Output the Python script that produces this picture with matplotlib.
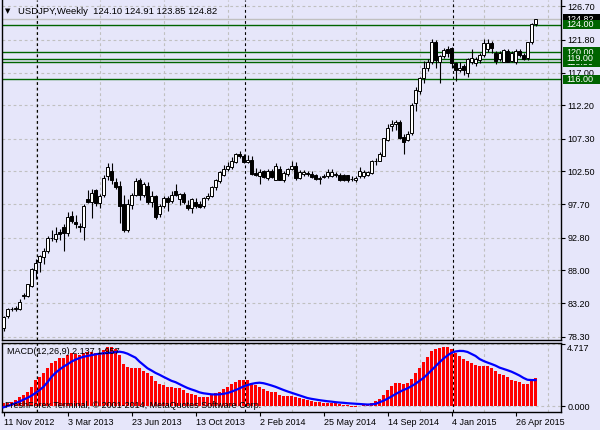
"""
USDJPY weekly candles with MACD(12,26,9) panel, MetaTrader style
"""
import numpy as np
import pandas as pd
import matplotlib
matplotlib.use('Agg')
import matplotlib.pyplot as plt
from matplotlib.ticker import MultipleLocator, FixedLocator
from matplotlib.patches import Rectangle
from matplotlib.transforms import blended_transform_factory

# weekly bars, first week 11 Nov 2012
first_week = '2012-11-11'

opens = [79.50, 81.30, 82.30, 82.40, 82.40, 84.30, 84.20, 85.70, 88.00, 89.20,
         90.00, 90.90, 92.70, 92.60, 93.60, 94.40, 93.50, 96.00, 95.10, 94.50,
         94.30, 98.40, 98.10, 99.85, 97.90, 99.10, 101.80, 102.60, 101.00, 100.40,
         97.80, 94.00, 97.60, 99.10, 101.20, 99.10, 100.40, 98.00, 98.85, 96.20,
         97.50, 98.60, 98.15, 99.70, 98.50, 99.20, 97.65, 97.10, 98.10, 97.80,
         97.50, 98.60, 98.95, 100.20, 101.05, 102.05, 102.80, 103.20, 103.85, 105.10,
         104.80, 103.90, 104.20, 102.30, 101.80, 102.50, 101.55, 102.50, 101.30, 102.85,
         101.20, 102.20, 102.80, 103.25, 101.55, 102.20, 102.30, 102.20, 101.95, 101.40,
         101.70, 101.80, 101.80, 102.00, 102.05, 102.00, 101.95, 101.45, 101.30, 101.80,
         101.80, 102.00, 102.30, 104.00, 104.10, 104.80, 107.15, 109.10, 109.40, 109.70,
         107.55, 107.15, 108.10, 112.50, 114.35, 116.20, 117.60, 118.60, 121.50, 118.60,
         119.40, 120.40, 120.60, 118.35, 117.30, 117.90, 116.90, 118.60, 118.40, 118.85,
         119.60, 120.40, 121.35, 119.90, 119.00, 118.60, 120.10, 118.70, 118.60, 120.20,
         119.60, 119.10, 121.40, 124.10]
highs = [81.40, 82.50, 82.70, 82.80, 83.85, 84.75, 86.00, 88.40, 89.70, 90.30,
         91.30, 93.00, 94.00, 94.40, 94.10, 94.80, 96.50, 96.70, 96.10, 95.00,
         97.80, 99.80, 99.90, 99.95, 99.20, 102.00, 103.70, 103.75, 101.50, 101.10,
         99.00, 98.50, 99.40, 101.50, 101.50, 100.90, 100.90, 99.60, 99.00, 97.70,
         98.90, 98.85, 99.60, 100.60, 99.40, 99.50, 98.30, 98.60, 98.60, 98.20,
         98.70, 99.30, 100.40, 101.35, 102.50, 103.40, 103.90, 104.60, 105.20, 105.45,
         105.10, 104.90, 104.80, 103.00, 102.90, 102.70, 102.80, 102.90, 103.75, 103.30,
         102.60, 103.00, 104.10, 103.90, 102.70, 102.70, 102.60, 102.50, 102.10, 101.80,
         102.10, 102.80, 102.80, 102.40, 102.30, 102.20, 102.00, 101.80, 101.90, 103.10,
         102.70, 102.60, 104.20, 104.50, 105.30, 107.40, 109.50, 110.10, 110.10, 110.10,
         108.00, 108.40, 112.50, 114.90, 116.30, 118.75, 119.00, 121.85, 121.70, 119.60,
         120.60, 120.90, 120.80, 118.60, 118.60, 118.30, 119.10, 120.40, 119.20, 119.90,
         121.90, 121.90, 121.60, 120.10, 120.20, 120.50, 120.40, 120.10, 120.50, 120.50,
         119.90, 121.50, 124.20, 124.91]
lows = [79.20, 81.10, 82.00, 82.10, 82.20, 83.80, 84.10, 85.60, 86.80, 87.80,
        89.00, 90.60, 92.30, 92.10, 92.50, 90.80, 93.00, 95.00, 94.20, 93.60,
        92.50, 97.90, 95.75, 97.40, 97.10, 98.80, 101.30, 100.60, 100.00, 94.90,
        93.60, 93.60, 97.00, 98.90, 98.30, 98.80, 97.80, 97.30, 95.55, 95.80,
        97.10, 96.70, 97.90, 98.90, 97.65, 97.80, 96.90, 96.45, 97.20, 97.10,
        97.20, 98.30, 98.80, 99.80, 100.80, 101.90, 102.60, 102.90, 103.80, 104.50,
        103.70, 103.80, 102.00, 101.80, 100.60, 101.50, 101.20, 101.50, 101.20, 101.20,
        100.90, 101.80, 102.70, 101.30, 101.40, 101.90, 101.90, 101.50, 101.20, 100.70,
        101.50, 101.60, 101.70, 101.70, 101.10, 101.10, 100.90, 101.10, 101.00, 101.60,
        101.50, 101.80, 102.20, 103.50, 104.00, 104.70, 106.90, 108.50, 108.60, 107.30,
        105.05, 106.90, 107.90, 111.30, 113.90, 115.50, 117.20, 118.20, 117.60, 115.45,
        119.10, 119.20, 117.60, 115.70, 117.10, 116.70, 116.40, 118.30, 118.00, 118.40,
        119.30, 120.00, 119.90, 118.30, 118.70, 118.50, 118.50, 118.50, 118.30, 119.20,
        118.80, 118.90, 121.20, 123.85]
closes = [81.25, 82.30, 82.40, 82.50, 83.45, 84.45, 85.95, 88.15, 89.10, 90.10,
          90.90, 92.70, 92.80, 93.40, 93.40, 93.50, 95.85, 95.30, 94.80, 94.30,
          97.50, 98.10, 99.40, 97.90, 98.90, 101.55, 103.20, 101.20, 100.30, 97.40,
          94.00, 97.80, 99.10, 101.05, 99.10, 100.60, 98.10, 98.95, 95.85, 97.50,
          98.60, 98.00, 99.10, 99.10, 99.20, 98.10, 97.20, 98.50, 97.50, 97.30,
          98.60, 98.95, 100.20, 101.20, 102.40, 102.80, 103.25, 104.00, 105.05, 104.70,
          103.95, 104.20, 102.20, 102.05, 102.40, 101.70, 102.50, 101.75, 103.25, 101.30,
          102.30, 102.85, 103.25, 101.55, 102.40, 102.40, 102.20, 101.65, 101.40, 101.55,
          101.85, 102.40, 102.45, 102.05, 101.30, 101.25, 101.20, 101.35, 101.60, 102.50,
          102.40, 102.40, 104.00, 104.10, 105.00, 107.40, 108.85, 109.50, 109.70, 107.40,
          106.75, 108.00, 112.30, 114.50, 116.20, 117.60, 118.60, 121.50, 118.85, 119.40,
          120.30, 119.80, 118.35, 117.40, 117.60, 117.30, 118.95, 119.10, 118.95, 119.60,
          121.30, 121.35, 120.60, 118.75, 119.90, 120.30, 118.60, 119.90, 120.10, 119.60,
          118.95, 121.40, 124.10, 124.82]

# MACD main (histogram) and signal
macd_main = [0.20, 0.25, 0.33, 0.45, 0.70, 0.83, 1.08, 1.46, 1.96, 2.17,
             2.47, 2.85, 3.22, 3.42, 3.60, 3.60, 3.85, 3.98, 3.93, 3.85,
             4.03, 4.10, 4.10, 4.03, 4.03, 4.23, 4.48, 4.43, 4.27, 3.85,
             3.17, 2.92, 2.85, 2.85, 2.85, 2.67, 2.47, 2.27, 1.91, 1.66,
             1.59, 1.46, 1.46, 1.34, 1.34, 1.21, 1.00, 0.91, 0.83, 0.70,
             0.70, 0.70, 0.83, 0.96, 1.08, 1.26, 1.46, 1.66, 1.83, 1.96,
             1.96, 1.96, 1.71, 1.59, 1.41, 1.26, 1.16, 1.08, 1.08, 0.83,
             0.76, 0.76, 0.76, 0.65, 0.58, 0.50, 0.45, 0.38, 0.33, 0.28,
             0.25, 0.25, 0.25, 0.20, 0.15, 0.10, 0.05, -0.05, -0.05, 0.02,
             0.05, 0.12, 0.25, 0.38, 0.50, 0.83, 1.21, 1.51, 1.71, 1.71,
             1.66, 1.76, 2.04, 2.52, 2.87, 3.35, 3.72, 4.15, 4.30, 4.40,
             4.48, 4.48, 4.30, 4.02, 3.77, 3.55, 3.40, 3.25, 3.10, 3.02,
             3.02, 3.02, 2.85, 2.64, 2.42, 2.34, 2.17, 1.96, 1.89, 1.79,
             1.66, 1.66, 1.96, 2.137]
macd_signal = [-0.10, 0.00, 0.10, 0.22, 0.33, 0.48, 0.62, 0.78, 0.98, 1.20,
               1.45, 1.80, 2.20, 2.50, 2.75, 2.97, 3.15, 3.35, 3.50, 3.62,
               3.72, 3.78, 3.84, 3.90, 3.95, 3.98, 4.00, 4.03, 4.07, 4.10,
               4.05, 3.95, 3.80, 3.65, 3.35, 3.10, 2.85, 2.68, 2.50, 2.36,
               2.20, 2.05, 1.90, 1.80, 1.65, 1.50, 1.36, 1.25, 1.15, 1.03,
               0.96, 0.92, 0.88, 0.87, 0.88, 0.92, 0.98, 1.08, 1.20, 1.33,
               1.48, 1.58, 1.67, 1.73, 1.76, 1.72, 1.64, 1.55, 1.45, 1.33,
               1.21, 1.10, 1.00, 0.90, 0.80, 0.70, 0.60, 0.54, 0.49, 0.44,
               0.40, 0.36, 0.33, 0.29, 0.26, 0.24, 0.21, 0.19, 0.17, 0.15,
               0.13, 0.11, 0.12, 0.16, 0.28, 0.40, 0.55, 0.72, 0.90, 1.06,
               1.21, 1.33, 1.50, 1.68, 1.90, 2.12, 2.40, 2.70, 3.00, 3.30,
               3.58, 3.82, 4.02, 4.12, 4.16, 4.15, 4.08, 3.93, 3.78, 3.55,
               3.40, 3.28, 3.17, 3.05, 2.90, 2.80, 2.70, 2.59, 2.45, 2.30,
               2.12, 1.98, 1.96, 1.957]

price_ticks = [126.70, 121.80, 117.00, 112.20, 107.30, 102.50, 97.70, 92.80, 88.00, 83.20, 78.30]
level_lines = [124.00, 120.00, 118.50, 119.00, 116.00]
bid_price = 124.82
year_starts = ['2013-01-06', '2014-01-05', '2015-01-04']
macd_ticks = [0.0, 4.717]

BG = '#E6E6FA'
GRID = '#C0C0C0'
LEVEL = '#006400'

plt.rcParams['font.family'] = ['Liberation Sans', 'DejaVu Sans']
plt.rcParams['font.size'] = 6.5

W, H = 600, 430


def px_box(left, top, right, bottom):
    return [left / W, 1 - bottom / H, (right - left) / W, (bottom - top) / H]


dates = pd.date_range(first_week, periods=len(closes), freq='W-SUN')
idx = np.arange(len(closes))
o = np.array(opens); c = np.array(closes)
hi = np.array(highs); lo = np.array(lows)

fig = plt.figure(figsize=(W / 100, H / 100), dpi=100, facecolor=BG)
ax = fig.add_axes(px_box(2, 0, 561, 340), facecolor=BG)
axm = fig.add_axes(px_box(2, 343, 561, 412), facecolor=BG, sharex=ax)

# one bar = 4 px, first bar centred at x = 3.5 px
x_lo, x_hi = (2 - 3.5) / 4, (561 - 3.5) / 4
ax.set_xlim(x_lo, x_hi)
ax.set_ylim(126.70 - (340 - 6.3) / 6.826, 126.70 + 6.3 / 6.826)

# grids
for a in (ax, axm):
    a.xaxis.set_minor_locator(MultipleLocator(8))
    a.grid(which='minor', axis='x', color=GRID, ls=(0, (2.5, 2.5)), lw=0.8)
    a.set_axisbelow(True)
    for s in a.spines.values():
        s.set_color('black')
        s.set_linewidth(1)

ax.yaxis.set_major_locator(FixedLocator(price_ticks))
ax.yaxis.tick_right()
ax.yaxis.set_major_formatter(plt.FuncFormatter(lambda v, p: f'{v:.2f}'))
ax.grid(axis='y', color=GRID, ls=(0, (2.5, 2.5)), lw=0.8)
ax.tick_params(axis='y', which='major', length=3, width=0.8, pad=1.5, labelsize=6.5)
ax.tick_params(axis='x', which='both', length=0, labelbottom=False)
ax.spines['top'].set_visible(False)

# period separators (year starts)
for d in year_starts:
    k = dates.get_loc(pd.Timestamp(d)) + 0.35
    for a in (ax, axm):
        a.axvline(k, color='black', ls=(0, (2.5, 2.5)), lw=0.8, zorder=1.5)

# candles
up = c >= o
ax.vlines(idx, lo, hi, color='black', lw=0.8, zorder=2)
body_h = np.maximum(np.abs(c - o), 0.08)
ax.bar(idx, body_h, bottom=np.minimum(o, c), width=0.55,
       color=np.where(up, 'white', 'black'), edgecolor='black', lw=0.7, zorder=3)

# bid and level lines
ax.axhline(bid_price, color=GRID, lw=1, zorder=1.8)
for lvl in level_lines:
    ax.axhline(lvl, color=LEVEL, lw=1, zorder=1.9)

# price boxes on the right axis
tr = blended_transform_factory(fig.transFigure, ax.transData)
box_h = 9.5 / 6.826
boxes = [(bid_price, 'black')] + [(lvl, LEVEL) for lvl in level_lines]
for n, (lvl, col) in enumerate(boxes):
    ax.add_patch(Rectangle((563 / W, lvl - box_h / 2), 37 / W, box_h, transform=tr,
                           facecolor=col, edgecolor='none', clip_on=False, zorder=10 + 2 * n))
    ax.text(566 / W, lvl, f'{lvl:.2f}', transform=tr, color='white', va='center',
            ha='left', fontsize=6.5, clip_on=False, zorder=11 + 2 * n)

# title
fig.text(5 / W, 1 - 11 / H, '▼', fontsize=5, va='center', family='DejaVu Sans')
fig.text(18 / W, 1 - 11 / H, 'USDJPY,Weekly  124.10 124.91 123.85 124.82',
         fontsize=6.8, va='center')

# MACD panel
mscale = 0.0755
axm.set_ylim(-(412 - 406) * mscale, (406 - 343) * mscale)
axm.bar(idx, macd_main, width=0.75, color='red', lw=0, zorder=2)
axm.plot(idx, macd_signal, color='blue', lw=1.6, zorder=3)
axm.yaxis.set_major_locator(FixedLocator(macd_ticks))
axm.yaxis.tick_right()
axm.yaxis.set_major_formatter(plt.FuncFormatter(lambda v, p: f'{v:.3f}'))
axm.grid(axis='y', color=GRID, ls=(0, (2.5, 2.5)), lw=0.8)
axm.tick_params(axis='y', which='major', length=3, width=0.8, pad=1.5, labelsize=6.5)
for lbl in axm.get_yticklabels():
    if lbl.get_text() != '0.000':
        lbl.set_verticalalignment('top')

label_pos = idx[::16]
axm.set_xticks(label_pos)
axm.set_xticklabels([f'{d.day} {d:%b %Y}' for d in dates[::16]])
axm.tick_params(axis='x', which='major', length=3, width=0.8, pad=1.5, labelsize=6.5)
axm.tick_params(axis='x', which='minor', length=0)
for lbl in axm.get_xticklabels():
    lbl.set_horizontalalignment('left')
axm.set_xlim(x_lo, x_hi)

axm.text(7 / W, 1 - 351 / H, 'MACD(12,26,9) 2.137 1.957', transform=fig.transFigure,
         va='center', fontsize=6.5, zorder=5)
axm.text(5 / W, 1 - 405 / H, 'FreshForex Terminal, © 2001-2014, MetaQuotes Software Corp.',
         transform=fig.transFigure, va='center', fontsize=6.5, zorder=5)

fig.savefig('out.png', dpi=100, facecolor=BG)
